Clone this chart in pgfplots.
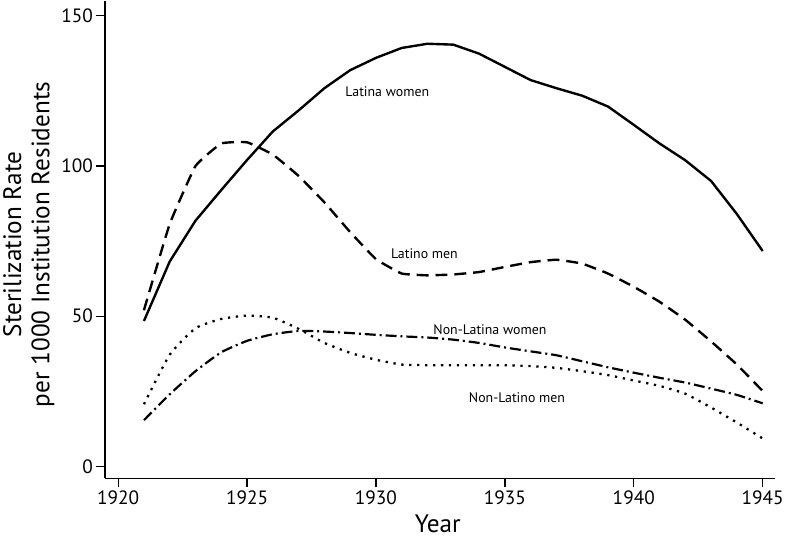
\documentclass[border=0pt]{standalone}
\usepackage{pgfplots}
\pgfplotsset{compat=1.18}
\usetikzlibrary{calc}
\usepackage{fontspec}
\setmainfont{PT Sans}

\begin{document}
\begin{tikzpicture}
\begin{axis}[
  scale only axis, width=674bp, height=481bp,
  xmin=1919.5, xmax=1945.46, ymin=-4, ymax=155,
  axis x line*=bottom, axis y line*=left,
  axis line style={line width=1.6bp,-},
  xtick={1920,1925,1930,1935,1940,1945}, ytick={0,50,100,150},
  tick align=outside, major tick length=9bp,
  tick style={line width=1.3bp, black},
  /pgf/number format/assume math mode=true,
  x tick label style={font=\fontsize{19.5}{22}\selectfont, /pgf/number format/1000 sep={}},
  y tick label style={font=\fontsize{19.5}{22}\selectfont},
  xlabel={Year},
  xlabel style={font=\fontsize{25.5}{28}\selectfont, at={(axis description cs:0.497,-0.1123)}, anchor=base},
  ylabel={Sterilization Rate\\per 1000 Institution Residents},
  ylabel style={font=\fontsize{25.5}{28.5}\selectfont, align=center, at={(axis description cs:-0.0757,0.49)}, anchor=south, inner sep=0pt},
  clip=false,
]
% Latina women
\addplot[black, line width=2.4bp] coordinates {
(1921,48.4) (1922,68.2) (1923,81.8) (1924,92) (1925,102) (1926,111.5) (1927,118.5)
(1928,125.9) (1929,131.9) (1930,136) (1931,139.3) (1932,140.7) (1933,140.4)
(1934,137.4) (1935,133) (1936,128.6) (1937,125.9) (1938,123.4) (1939,119.8)
(1940,113.7) (1941,107.5) (1942,101.9) (1943,95) (1944,84) (1945,71.7)};
% Latino men
\addplot[black, line width=2.4bp, dash pattern=on 12bp off 7bp, smooth, tension=0.2] coordinates {
(1921,52) (1922,80.7) (1923,100) (1924,107.5) (1925,107.9) (1926,103.8) (1927,96.7)
(1928,87.9) (1929,78) (1930,69) (1931,64.2) (1932,63.6) (1933,63.9) (1934,64.7)
(1935,66.4) (1936,68) (1937,68.8) (1938,67.5) (1939,64.2) (1940,59.8) (1941,54.8)
(1942,48.8) (1943,41.6) (1944,33.9) (1945,25.1)};
% Non-Latina women
\addplot[black, line width=2.2bp, dash pattern=on 11bp off 4bp on 2bp off 4bp, smooth, tension=0.3] coordinates {
(1921,15.4) (1922,24) (1923,31.7) (1924,38) (1925,41.8) (1926,44) (1927,45.1)
(1928,44.9) (1929,44.4) (1930,43.8) (1931,43.3) (1932,42.9) (1933,42.2) (1934,41.1)
(1935,39.6) (1936,38.3) (1937,37) (1938,35) (1939,33) (1940,31.2) (1941,29.5)
(1942,27.9) (1943,25.9) (1944,23.8) (1945,21)};
% Non-Latino men
\addplot[black, line width=2.3bp, line cap=butt, dash pattern=on 2.3bp off 5.7bp, smooth, tension=0.3] coordinates {
(1921,20.7) (1922,37.2) (1923,46) (1924,49.1) (1925,50.2) (1926,49.5) (1927,45.8)
(1928,41.1) (1929,37.8) (1930,35.5) (1931,33.9) (1932,33.7) (1933,33.7) (1934,33.7)
(1935,33.7) (1936,33.4) (1937,32.8) (1938,31.7) (1939,30.4) (1940,28.6) (1941,26.8)
(1942,24.2) (1943,19.6) (1944,14.6) (1945,9.3)};
\node[font=\fontsize{14}{16}\selectfont, anchor=base] at (axis cs:1930.44,123) {Latina women};
\node[font=\fontsize{14}{16}\selectfont, anchor=base] at (axis cs:1931.88,69.2) {Latino men};
\node[font=\fontsize{14}{16}\selectfont, anchor=base] at (axis cs:1934.42,44.0) {Non-Latina women};
\node[font=\fontsize{14}{16}\selectfont, anchor=base] at (axis cs:1935.47,21.2) {Non-Latino men};
\end{axis}
\path ($(current axis.south west)+(-106bp,-61bp)$) rectangle ($(current axis.north east)+(7bp,0bp)$);
\end{tikzpicture}
\end{document}
